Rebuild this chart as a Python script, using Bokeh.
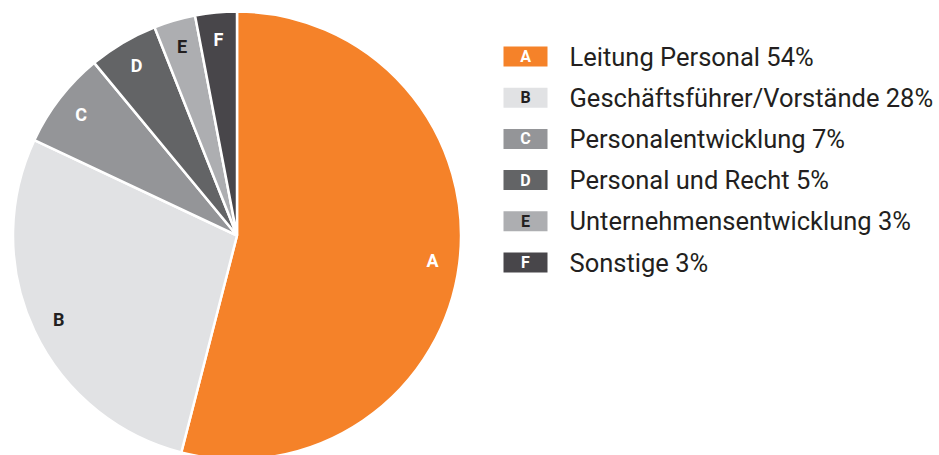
import math
from bokeh.plotting import figure
from bokeh.models import Range1d, ColumnDataSource
from bokeh.core.properties import value
from bokeh.embed import file_html
from bokeh.resources import INLINE

letters = ["A", "B", "C", "D", "E", "F"]
names = ["Leitung Personal", "Geschäftsführer/Vorstände", "Personalentwicklung",
         "Personal und Recht", "Unternehmensentwicklung", "Sonstige"]
shares = [54, 28, 7, 5, 3, 3]
colors = ["#F58229", "#E1E2E4", "#949598", "#636466", "#ADAEB1", "#48464A"]
label_colors = ["#FFFFFF", "#231F20", "#FFFFFF", "#FFFFFF", "#231F20", "#FFFFFF"]

W, H = 939, 455
p = figure(width=W, height=H, output_backend="svg", toolbar_location=None,
           x_range=Range1d(0, W), y_range=Range1d(0, H), min_border=0)
p.axis.visible = False
p.grid.visible = False
p.outline_line_color = None
p.background_fill_color = "white"

cx, cy, R = 236.5, H - 235, 224
total = sum(shares)
starts, ends, lx, ly = [], [], [], []
a = math.pi / 2
for s in shares:
    sweep = 2 * math.pi * s / total
    a_end = a - sweep
    starts.append(a_end)
    ends.append(a)
    mid = (a + a_end) / 2
    lx.append(cx + 0.88 * R * math.cos(mid))
    ly.append(cy + 0.88 * R * math.sin(mid))
    a = a_end

src = ColumnDataSource(dict(start=starts, end=ends, color=colors, lx=lx, ly=ly,
                            letter=letters, lc=label_colors))
p.wedge(x=cx, y=cy, radius=R, start_angle="start", end_angle="end",
        fill_color="color", line_color="white", line_width=2.5, source=src)
p.text(x="lx", y="ly", text="letter", text_color="lc", text_align="center",
       text_baseline="middle", text_font=value("Roboto"), text_font_size="18px",
       text_font_style="bold", source=src)

# legend
bx, tx, y0, dy = 525, 569, H - 56, 41.2
leg_y = [y0 - i * dy for i in range(len(letters))]
leg_txt = [f"{n} {s}%" for n, s in zip(names, shares)]
lsrc = ColumnDataSource(dict(y=leg_y, color=colors, letter=letters, lc=label_colors,
                             txt=leg_txt))
p.rect(x=bx, y="y", width=44, height=20, fill_color="color", line_color=None, source=lsrc)
p.text(x=bx, y="y", text="letter", text_color="lc", text_align="center",
       text_baseline="middle", text_font=value("Roboto"), text_font_size="16px",
       text_font_style="bold", source=lsrc)
p.text(x=tx, y="y", text="txt", text_color="#231F20", text_align="left",
       text_baseline="middle", text_font=value("Roboto"), text_font_size="25.5px",
       source=lsrc)

open("out.html", "w").write(file_html(p, INLINE))
